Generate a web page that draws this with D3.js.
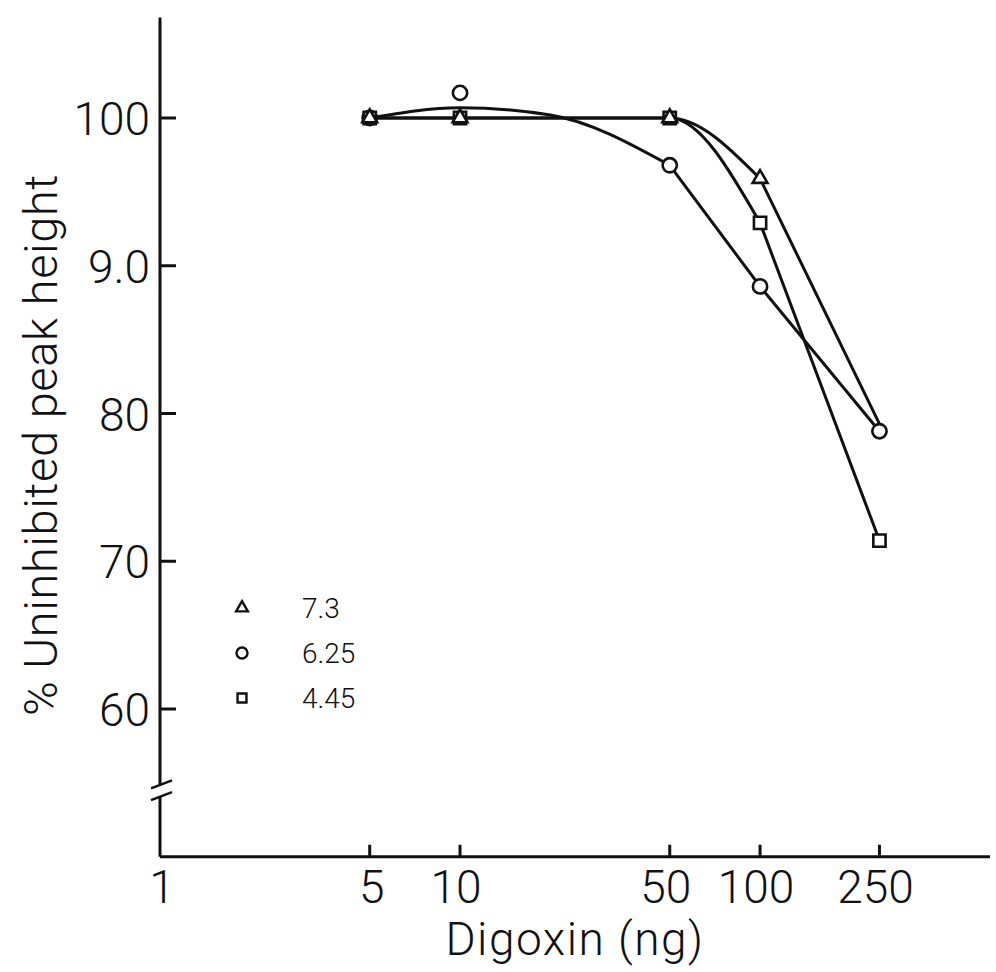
<!DOCTYPE html>
<html>
<head>
<meta charset="utf-8">
<script src="https://cdn.jsdelivr.net/npm/d3@7"></script>
<style>
  html, body { margin: 0; padding: 0; background: #fff; }
  svg { display: block; }
  text { font-family: Roboto, "DejaVu Sans Condensed", sans-serif; font-weight: 300; fill: #111; }
</style>
</head>
<body>
<svg id="chart" width="996" height="972"></svg>
<script>
// Digoxin dose (ng) and % of uninhibited peak height for three series
const doses = [5, 10, 50, 100, 250];
const series73 = [100, 100, 100, 95.9, 79.3];
const series625 = [100, 101.7, 96.8, 88.6, 78.8];
const series445 = [100, 100, 100, 92.9, 71.4];

// Smoothed curve drawn through the 6.25 points
const fit625Doses = [5, 10, 20, 50, 100, 250];
const fit625Values = [100, 100.7, 100.2, 96.8, 88.6, 78.8];

const seriesNames = ["7.3", "6.25", "4.45"];
const xTicks = [1, 5, 10, 50, 100, 250];
const yTicks = [60, 70, 80, 90, 100];
const yTickLabels = ["60", "70", "80", "9.0", "100"];

const svg = d3.select("#chart");
const ink = "#111";

const x = d3.scaleLog().domain([1, 584]).range([160, 990]);
const y = d3.scaleLinear().domain([60, 100]).range([709, 118]);
const yBottom = 50, yTop = 106.8;

// Axes
const axisG = svg.append("g").attr("stroke", ink).attr("stroke-width", 3).attr("fill", "none");
axisG.append("line")
  .attr("x1", x(1)).attr("x2", x.range()[1])
  .attr("y1", y(yBottom)).attr("y2", y(yBottom));
// y axis with a break near the bottom
const breakTop = 54.9, breakBot = 54.1;
axisG.append("line")
  .attr("x1", x(1)).attr("x2", x(1))
  .attr("y1", y(yTop)).attr("y2", y(breakTop));
axisG.append("line")
  .attr("x1", x(1)).attr("x2", x(1))
  .attr("y1", y(breakBot)).attr("y2", y(yBottom));
[breakTop, breakBot].forEach(v => {
  axisG.append("line")
    .attr("x1", x(1) - 9).attr("x2", x(1) + 12)
    .attr("y1", y(v) + 4).attr("y2", y(v) - 4)
    .attr("stroke-width", 2.5);
});

// y ticks (pointing inward) and labels
yTicks.forEach((v, i) => {
  axisG.append("line")
    .attr("x1", x(1)).attr("x2", x(1) + 16)
    .attr("y1", y(v)).attr("y2", y(v));
  svg.append("text")
    .attr("x", x(1) - 10).attr("y", y(v) + 17)
    .attr("text-anchor", "end")
    .attr("font-size", 46)
    .text(yTickLabels[i]);
});

// x ticks (pointing inward) and labels
xTicks.forEach(v => {
  if (v !== 1) {
    axisG.append("line")
      .attr("x1", x(v)).attr("x2", x(v))
      .attr("y1", y(yBottom)).attr("y2", y(yBottom) - 12);
  }
  svg.append("text")
    .attr("x", x(v) - (v === 1 ? -2 : v === 5 ? -2 : 4)).attr("y", 903)
    .attr("text-anchor", "middle")
    .attr("font-size", 46)
    .text(v);
});

// Axis titles
svg.append("text")
  .attr("x", 575).attr("y", 955)
  .attr("text-anchor", "middle")
  .attr("font-size", 46)
  .attr("letter-spacing", 1.5)
  .text("Digoxin (ng)");

svg.append("text")
  .attr("transform", "translate(57,445) rotate(-90)")
  .attr("text-anchor", "middle")
  .attr("font-size", 47)
  .attr("letter-spacing", 0.6)
  .text("% Uninhibited peak height");

// Curves: smooth shoulder, then straight segments at the high doses
const smooth = d3.line().x(d => x(d[0])).y(d => y(d[1])).curve(d3.curveMonotoneX);
const straight = d3.line().x(d => x(d[0])).y(d => y(d[1]));
const zip = (a, b) => a.map((v, i) => [v, b[i]]);
const linesG = svg.append("g").attr("fill", "none").attr("stroke", ink).attr("stroke-width", 3)
  .attr("stroke-linejoin", "round").attr("stroke-linecap", "round");

function drawCurve(pts, splitAt) {
  const k = pts.findIndex(p => p[0] === splitAt);
  linesG.append("path").attr("d", smooth(pts.slice(0, k + 1)));
  linesG.append("path").attr("d", straight(pts.slice(k)));
}
drawCurve(zip(doses, series73), 100);
drawCurve(zip(doses, series445), 100);
drawCurve(zip(fit625Doses, fit625Values), 50);

// Markers (hollow)
const markG = svg.append("g").attr("fill", "#fff").attr("stroke", ink).attr("stroke-width", 2.6);
const shapes = { square: d3.symbolSquare, circle: d3.symbolCircle, triangle: d3.symbolTriangle };
const sizes = { square: 150, circle: 160, triangle: 95 };
function drawMarks(pts, type) {
  markG.selectAll(null)
    .data(pts)
    .join("path")
    .attr("transform", d => `translate(${x(d[0])},${y(d[1])})`)
    .attr("d", d3.symbol().type(shapes[type]).size(sizes[type])());
}
const pts625 = zip(doses, series625);
// a 7.3 point that falls on a separate 6.25 point is hidden by that circle
const pts73 = zip(doses, series73).filter((p, i) =>
  !(Math.abs(p[1] - series625[i]) < 1 && Math.abs(p[1] - series625[i]) > 0));
drawMarks(pts625, "circle");
drawMarks(zip(doses, series445), "square");
drawMarks(pts73, "triangle");

// Legend
const legend = [
  { name: seriesNames[0], type: "triangle", size: 60 },
  { name: seriesNames[1], type: "circle", size: 95 },
  { name: seriesNames[2], type: "square", size: 80 }
];
legend.forEach((d, i) => {
  const ly = 608 + i * 45;
  svg.append("path")
    .attr("transform", `translate(242,${ly})`)
    .attr("d", d3.symbol().type(shapes[d.type]).size(d.size)())
    .attr("fill", "#fff").attr("stroke", ink).attr("stroke-width", 2.4);
  svg.append("text")
    .attr("x", 302).attr("y", ly + 10)
    .attr("font-size", 28)
    .text(d.name);
});
</script>
</body>
</html>
